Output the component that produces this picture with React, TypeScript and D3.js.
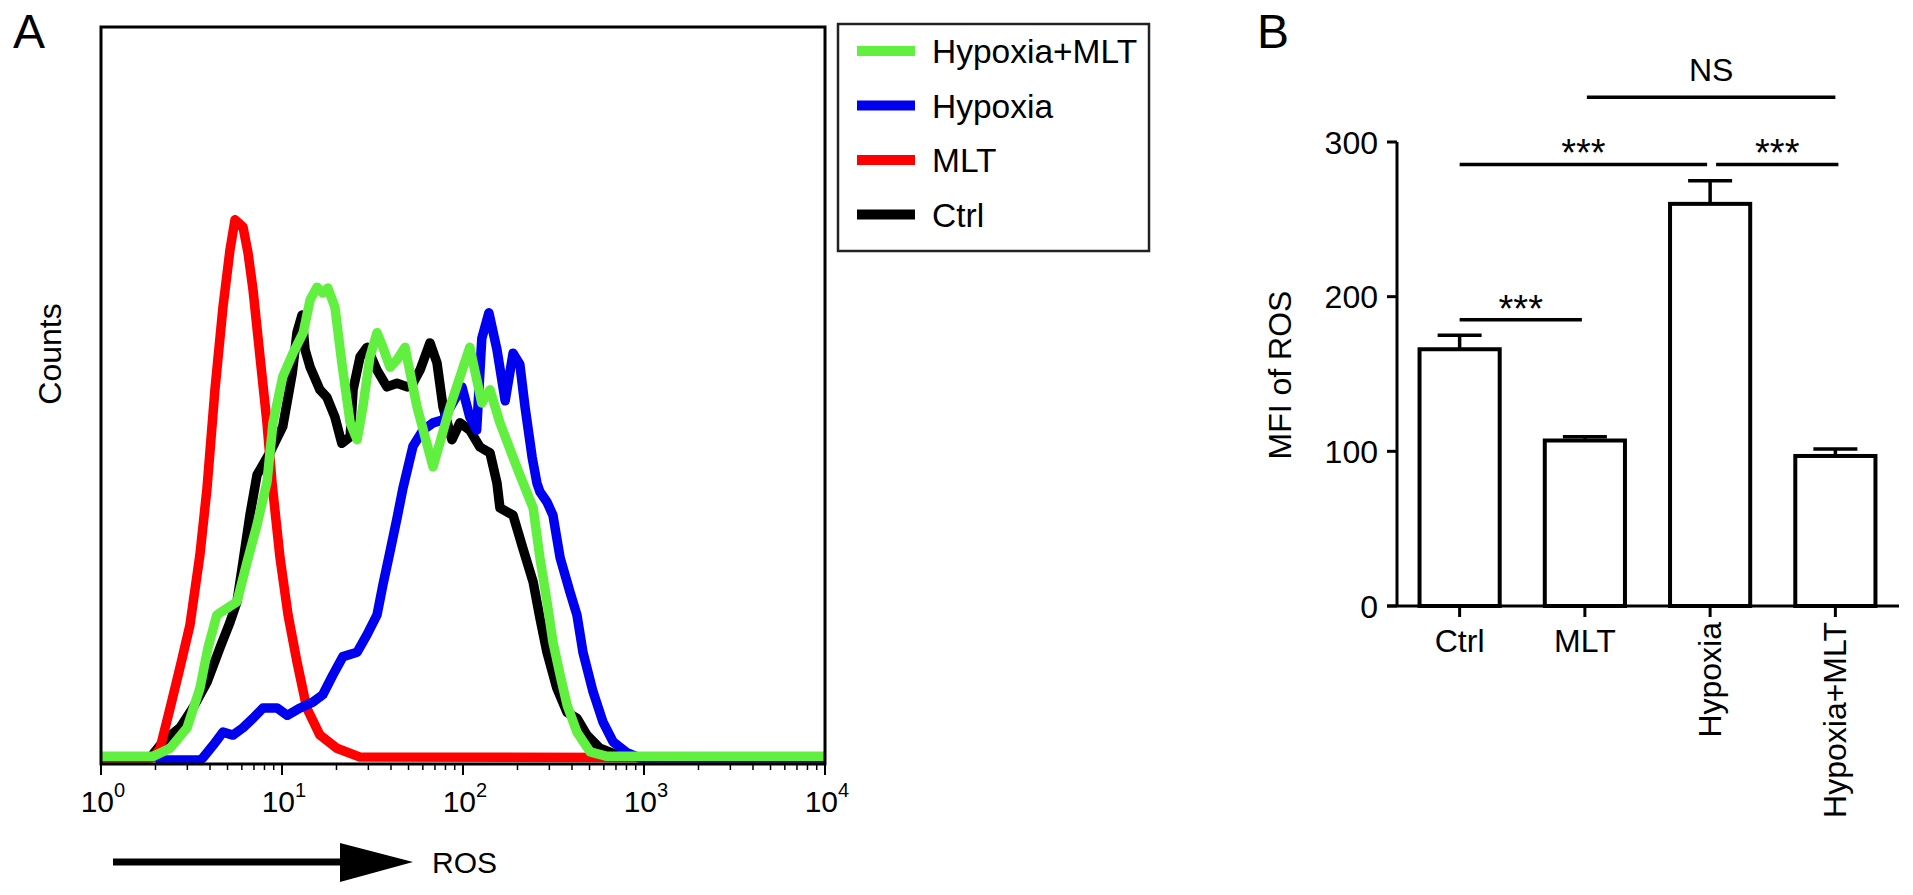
import * as d3 from "d3";
import React from "react";

// ---------- Panel A: flow histograms (ROS fluorescence, counts) ----------
type Pt = [number, number];

const ctrlHist: Pt[] = [
  [1.0, 0.3], [1.87, 0.3], [2.2, 2.5], [2.73, 4.4], [3.22, 7.1], [3.85, 10.6], [4.54, 15.3],
  [5.16, 18.8], [5.64, 21.6], [6.09, 27.0], [6.65, 33.4], [7.28, 38.9], [8.6, 42.0],
  [10.1, 45.5], [11.4, 52.8], [12.1, 58.3], [12.9, 60.7], [13.4, 56.0], [14.3, 53.6],
  [16.2, 50.5], [17.7, 49.5], [19.6, 46.8], [21.4, 43.2], [23.8, 44.1], [24.7, 50.5],
  [27.0, 55.0], [29.5, 56.3], [33.5, 53.2], [38.0, 50.9], [43.2, 51.4], [49.1, 50.9],
  [52.9, 51.4], [57.9, 53.2], [65.7, 56.9], [71.8, 54.2], [77.5, 48.2], [86.9, 43.7],
  [96.2, 46.0], [109, 45.0], [124, 42.7], [141, 41.9], [154, 37.8], [160, 34.4],
  [189, 33.4], [214, 28.9], [244, 24.3], [266, 19.4], [291, 14.7], [330, 9.8],
  [376, 6.5], [426, 5.7], [484, 3.4], [571, 1.6], [709, 0.7], [950, 0.3], [10000, 0.3],
];

const mltHist: Pt[] = [
  [1.0, 0.3], [1.94, 0.3], [2.12, 1.6], [2.41, 7.1], [2.73, 12.6], [3.1, 18.4], [3.52, 28.0],
  [3.85, 37.0], [4.26, 50.5], [4.72, 61.8], [5.16, 69.6], [5.5, 73.7], [6.09, 72.7],
  [6.49, 69.2], [6.92, 64.1], [7.56, 55.0], [8.26, 46.0], [8.81, 37.8], [9.75, 27.6],
  [10.8, 19.8], [12.1, 13.4], [13.7, 7.1], [16.2, 3.4], [20.1, 1.6], [27.0, 0.4],
  [10000, 0.3],
];

const hypoxiaHist: Pt[] = [
  [2.0, 0.0], [3.52, 0.0], [3.66, 0.3], [4.16, 2.0], [4.72, 3.8], [5.36, 3.4], [6.09, 4.4],
  [6.92, 5.7], [7.85, 7.1], [9.38, 7.1], [10.7, 6.1], [12.6, 7.1], [14.8, 7.9], [16.8, 8.9],
  [19.1, 11.6], [21.7, 14.1], [26.0, 14.7], [29.5, 17.1], [33.5, 19.8], [36.1, 23.9],
  [39.5, 28.4], [43.2, 33.0], [46.6, 37.1], [52.9, 42.8], [60.1, 45.0], [68.3, 46.0],
  [77.5, 46.4], [98.7, 50.9], [109, 46.8], [119, 45.0], [127, 57.5], [139, 61.0],
  [154, 56.0], [171, 49.0], [189, 55.5], [206, 54.0], [220, 48.2], [241, 41.3],
  [256, 37.8], [266, 36.6], [291, 35.2], [314, 33.4], [344, 27.6], [390, 22.9],
  [426, 19.8], [460, 14.7], [523, 9.3], [593, 5.2], [674, 2.5], [805, 1.0], [950, 0.3],
  [10000, 0.3],
];

const hypoxiaMltHist: Pt[] = [
  [1.0, 0.5], [1.94, 0.5], [2.41, 1.6], [2.99, 4.4], [3.52, 9.8], [3.9, 15.3], [4.37, 19.8],
  [4.97, 20.7], [5.64, 21.6], [6.41, 27.0], [7.28, 32.1], [8.26, 37.9], [8.92, 46.0],
  [10.1, 52.3], [11.5, 55.5], [13.1, 58.3], [14.3, 62.8], [15.6, 64.5], [16.8, 63.7],
  [17.9, 64.4], [19.6, 61.8], [21.4, 54.2], [23.8, 46.0], [26.0, 43.7], [28.0, 48.2],
  [30.6, 55.0], [33.5, 58.3], [36.1, 56.3], [39.5, 53.6], [43.2, 54.6], [47.8, 56.3],
  [55.7, 48.2], [68.3, 40.0], [84.8, 48.2], [109, 56.3], [127, 48.7], [141, 50.5],
  [160, 46.0], [189, 41.3], [206, 38.9], [244, 34.4], [266, 27.6], [291, 21.6],
  [314, 16.1], [344, 11.6], [376, 7.5], [426, 3.8], [504, 1.1], [625, 0.5], [10000, 0.5],
];

// drawn bottom -> top; legend lists them top -> bottom reversed
const histSeries = [
  { name: "Ctrl", color: "#000000", data: ctrlHist },
  { name: "MLT", color: "#ff0000", data: mltHist },
  { name: "Hypoxia", color: "#0000f0", data: hypoxiaHist },
  { name: "Hypoxia+MLT", color: "#62f040", data: hypoxiaMltHist },
];

const rosTickExps = [0, 1, 2, 3, 4];

// ---------- Panel B: MFI bars ----------
const groups = ["Ctrl", "MLT", "Hypoxia", "Hypoxia+MLT"];
const mfiMean = [166, 107, 260, 97];
const mfiErr = [9, 2.5, 15, 4.5];
const mfiTicks = [0, 100, 200, 300];
const sigBars = [
  { from: "Ctrl", to: "MLT", at: 185, label: "***", d1: 0, d2: -3 },
  { from: "Ctrl", to: "Hypoxia", at: 285.5, label: "***", d1: 0, d2: -3 },
  { from: "Hypoxia", to: "Hypoxia+MLT", at: 285.5, label: "***", d1: 6, d2: 3 },
  { from: "MLT", to: "Hypoxia+MLT", at: 329, label: "NS", d1: 2, d2: 0 },
];

const FONT = "'Liberation Sans', Arial, Helvetica, sans-serif";

const PanelA: React.FC = () => {
  const x = d3.scaleLog().domain([1, 1e4]).range([101, 825]);
  const y = d3.scaleLinear().domain([0, 100]).range([760, 27]);
  const line = d3.line<Pt>().x(d => x(d[0])).y(d => y(d[1]));
  const minor = x.ticks().filter(t => !rosTickExps.some(e => Math.abs(t - 10 ** e) < 1e-9));
  const boxBottom = 764;
  return (
    <g>
      <text x={13} y={48} fontSize={48}>A</text>
      {histSeries.map(s => (
        <path key={s.name} d={line(s.data)!} fill="none" stroke={s.color} strokeWidth={9.5}
          strokeLinejoin="round" strokeLinecap="butt" />
      ))}
      <rect x={101} y={27} width={724} height={boxBottom - 27} fill="none" stroke="#000" strokeWidth={3} />
      {minor.map(t => (
        <line key={t} x1={x(t)} x2={x(t)} y1={boxBottom} y2={boxBottom + 6} stroke="#000" strokeWidth={1.5} />
      ))}
      {rosTickExps.map(e => (
        <g key={e}>
          <line x1={x(10 ** e)} x2={x(10 ** e)} y1={boxBottom} y2={boxBottom + 11} stroke="#000" strokeWidth={2} />
          <text x={x(10 ** e) + 13} y={812} fontSize={30} textAnchor="end">10</text>
          <text x={x(10 ** e) + 13} y={797} fontSize={20}>{e}</text>
        </g>
      ))}
      <text transform="translate(61,354) rotate(-90)" fontSize={32} textAnchor="middle">Counts</text>
      <line x1={113} x2={345} y1={862} y2={862} stroke="#000" strokeWidth={7} />
      <polygon points="340,843 413,862 340,882" fill="#000" />
      <text x={432} y={873} fontSize={30}>ROS</text>
      <rect x={838} y={24} width={311} height={227} fill="#fff" stroke="#222" strokeWidth={2.5} />
      {[...histSeries].reverse().map((s, i) => {
        const cy = 51 + i * 54.5;
        return (
          <g key={s.name}>
            <line x1={857} x2={915} y1={cy} y2={cy} stroke={s.color} strokeWidth={10} />
            <text x={932} y={cy + 12} fontSize={33.5}>{s.name}</text>
          </g>
        );
      })}
    </g>
  );
};

const PanelB: React.FC = () => {
  const x = d3.scaleBand().domain(groups).range([1397, 1898]).paddingInner(0.36).paddingOuter(0.18);
  const y = d3.scaleLinear().domain([0, 300]).range([606, 142]);
  const cx = (g: string) => x(g)! + x.bandwidth() / 2;
  const capW = 44;
  return (
    <g>
      <text x={1257} y={48} fontSize={48}>B</text>
      {groups.map((g, i) => (
        <g key={g}>
          <line x1={cx(g)} x2={cx(g)} y1={y(mfiMean[i])} y2={y(mfiMean[i] + mfiErr[i])} stroke="#000" strokeWidth={3.5} />
          <line x1={cx(g) - capW / 2} x2={cx(g) + capW / 2} y1={y(mfiMean[i] + mfiErr[i])} y2={y(mfiMean[i] + mfiErr[i])}
            stroke="#000" strokeWidth={3.5} />
          <rect x={x(g)!} y={y(mfiMean[i])} width={x.bandwidth()} height={y(0) - y(mfiMean[i])}
            fill="#fff" stroke="#000" strokeWidth={4} />
        </g>
      ))}
      <line x1={1397} x2={1397} y1={y(300)} y2={y(0)} stroke="#000" strokeWidth={3} />
      <line x1={1387} x2={1899} y1={y(0)} y2={y(0)} stroke="#000" strokeWidth={3} />
      {mfiTicks.map(t => (
        <g key={t}>
          <line x1={1387} x2={1397} y1={y(t)} y2={y(t)} stroke="#000" strokeWidth={3} />
          <text x={1378} y={y(t)} dy="0.36em" fontSize={32} textAnchor="end">{t}</text>
        </g>
      ))}
      {groups.map((g, i) => (
        <g key={g}>
          <line x1={cx(g)} x2={cx(g)} y1={y(0)} y2={y(0) + 11} stroke="#000" strokeWidth={3} />
          {i < 2 ? (
            <text x={cx(g)} y={652} fontSize={32} textAnchor="middle">{g}</text>
          ) : (
            <text transform={`translate(${cx(g) + 11},622) rotate(-90)`} fontSize={32} textAnchor="end">{g}</text>
          )}
        </g>
      ))}
      <text transform="translate(1291,375) rotate(-90)" fontSize={32} textAnchor="middle">MFI of ROS</text>
      {sigBars.map((s, i) => {
        const x1 = cx(s.from) + s.d1;
        const x2 = cx(s.to) + s.d2;
        const ly = y(s.at);
        const isStar = s.label !== "NS";
        return (
          <g key={i}>
            <line x1={x1} x2={x2} y1={ly} y2={ly} stroke="#000" strokeWidth={3.5} />
            <text x={(x1 + x2) / 2} y={isStar ? ly + 2 : ly - 16} fontSize={isStar ? 38 : 32} textAnchor="middle">
              {s.label}
            </text>
          </g>
        );
      })}
    </g>
  );
};

export default function App() {
  return (
    <svg width={1913} height={895} viewBox="0 0 1913 895"
      style={{ position: "absolute", left: 0, top: 0, background: "#fff", fontFamily: FONT }}>
      <rect width={1913} height={895} fill="#fff" />
      <PanelA />
      <PanelB />
    </svg>
  );
}
